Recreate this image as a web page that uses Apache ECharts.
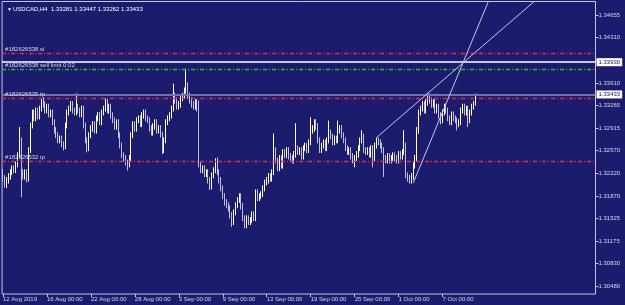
<!DOCTYPE html>
<html>
<head>
<meta charset="utf-8">
<script src="https://cdn.jsdelivr.net/npm/echarts@6/dist/echarts.min.js"></script>
<style>
html,body{margin:0;padding:0;background:#1c1c6e;}
#chart{width:625px;height:305px;}
</style>
</head>
<body>
<div id="chart"></div>
<script>
// USDCAD H4, 12 Aug 2019 -> 10 Oct 2019 : [open, close, low, high]
const candles = [
  [1.3223,1.3214,1.3209,1.3228],[1.3214,1.3205,1.3200,1.3219],[1.3205,1.3211,1.3199,1.3216],[1.3211,1.3217,1.3206,1.3222],
  [1.3217,1.3223,1.3212,1.3228],[1.3223,1.3229,1.3219,1.3234],[1.3229,1.3226,1.3222,1.3234],[1.3226,1.3236,1.3222,1.3240],
  [1.3236,1.3250,1.3231,1.3254],[1.3250,1.3272,1.3245,1.3293],[1.3272,1.3223,1.3185,1.3277],[1.3223,1.3217,1.3212,1.3228],
  [1.3217,1.3223,1.3212,1.3228],[1.3223,1.3214,1.3208,1.3228],[1.3214,1.3257,1.3209,1.3262],[1.3257,1.3296,1.3253,1.3300],
  [1.3296,1.3316,1.3291,1.3320],[1.3316,1.3306,1.3302,1.3320],[1.3306,1.3319,1.3302,1.3323],[1.3319,1.3309,1.3305,1.3323],
  [1.3309,1.3322,1.3305,1.3326],[1.3322,1.3331,1.3317,1.3337],[1.3331,1.3328,1.3323,1.3339],[1.3328,1.3319,1.3314,1.3333],
  [1.3319,1.3325,1.3314,1.3329],[1.3325,1.3313,1.3308,1.3329],[1.3313,1.3316,1.3308,1.3320],[1.3316,1.3300,1.3296,1.3320],
  [1.3300,1.3288,1.3283,1.3305],[1.3288,1.3280,1.3276,1.3293],[1.3280,1.3272,1.3268,1.3285],[1.3272,1.3276,1.3268,1.3280],
  [1.3276,1.3266,1.3262,1.3280],[1.3266,1.3263,1.3257,1.3271],[1.3263,1.3296,1.3259,1.3300],[1.3296,1.3316,1.3291,1.3320],
  [1.3316,1.3322,1.3311,1.3326],[1.3322,1.3328,1.3317,1.3333],[1.3328,1.3319,1.3314,1.3333],[1.3319,1.3316,1.3311,1.3323],
  [1.3316,1.3325,1.3311,1.3345],[1.3325,1.3319,1.3314,1.3329],[1.3319,1.3313,1.3308,1.3323],[1.3313,1.3322,1.3308,1.3326],
  [1.3322,1.3296,1.3291,1.3326],[1.3296,1.3272,1.3268,1.3300],[1.3272,1.3260,1.3254,1.3277],[1.3260,1.3280,1.3256,1.3285],
  [1.3280,1.3291,1.3276,1.3296],[1.3291,1.3297,1.3286,1.3302],[1.3297,1.3288,1.3283,1.3302],[1.3288,1.3306,1.3283,1.3311],
  [1.3306,1.3311,1.3302,1.3316],[1.3311,1.3300,1.3296,1.3316],[1.3300,1.3316,1.3296,1.3320],[1.3316,1.3322,1.3311,1.3326],
  [1.3322,1.3331,1.3317,1.3337],[1.3331,1.3319,1.3314,1.3336],[1.3319,1.3325,1.3314,1.3329],[1.3325,1.3311,1.3306,1.3329],
  [1.3311,1.3303,1.3299,1.3316],[1.3303,1.3294,1.3289,1.3308],[1.3294,1.3300,1.3289,1.3305],[1.3300,1.3280,1.3276,1.3305],
  [1.3280,1.3265,1.3260,1.3285],[1.3265,1.3250,1.3245,1.3269],[1.3250,1.3245,1.3240,1.3254],[1.3245,1.3239,1.3234,1.3250],
  [1.3239,1.3236,1.3226,1.3243],[1.3236,1.3245,1.3231,1.3250],[1.3245,1.3280,1.3240,1.3285],[1.3280,1.3297,1.3276,1.3302],
  [1.3297,1.3291,1.3286,1.3302],[1.3291,1.3303,1.3286,1.3308],[1.3303,1.3306,1.3299,1.3311],[1.3306,1.3297,1.3293,1.3311],
  [1.3297,1.3311,1.3293,1.3316],[1.3311,1.3316,1.3306,1.3320],[1.3316,1.3306,1.3302,1.3320],[1.3306,1.3303,1.3299,1.3311],
  [1.3303,1.3291,1.3286,1.3308],[1.3291,1.3285,1.3280,1.3296],[1.3285,1.3294,1.3280,1.3299],[1.3294,1.3300,1.3289,1.3305],
  [1.3300,1.3288,1.3283,1.3305],[1.3288,1.3291,1.3283,1.3296],[1.3291,1.3282,1.3277,1.3296],[1.3282,1.3257,1.3251,1.3286],
  [1.3257,1.3272,1.3253,1.3277],[1.3272,1.3300,1.3268,1.3305],[1.3300,1.3306,1.3296,1.3311],[1.3306,1.3311,1.3302,1.3316],
  [1.3311,1.3322,1.3306,1.3326],[1.3322,1.3342,1.3317,1.3360],[1.3342,1.3334,1.3329,1.3346],[1.3334,1.3325,1.3320,1.3339],
  [1.3325,1.3328,1.3320,1.3333],[1.3328,1.3337,1.3323,1.3342],[1.3337,1.3342,1.3333,1.3346],[1.3342,1.3349,1.3337,1.3354],
  [1.3349,1.3357,1.3345,1.3383],[1.3357,1.3342,1.3337,1.3362],[1.3342,1.3334,1.3329,1.3346],[1.3334,1.3328,1.3323,1.3339],
  [1.3328,1.3325,1.3320,1.3333],[1.3325,1.3331,1.3320,1.3336],[1.3331,1.3322,1.3317,1.3336],[1.3322,1.3234,1.3231,1.3334],
  [1.3234,1.3226,1.3222,1.3239],[1.3226,1.3229,1.3222,1.3234],[1.3229,1.3220,1.3216,1.3234],[1.3220,1.3223,1.3216,1.3228],
  [1.3223,1.3211,1.3206,1.3228],[1.3211,1.3202,1.3196,1.3216],[1.3202,1.3219,1.3197,1.3223],[1.3219,1.3226,1.3214,1.3231],
  [1.3226,1.3242,1.3222,1.3245],[1.3242,1.3223,1.3219,1.3246],[1.3223,1.3211,1.3206,1.3228],[1.3211,1.3199,1.3194,1.3216],
  [1.3199,1.3186,1.3182,1.3203],[1.3186,1.3177,1.3172,1.3191],[1.3177,1.3172,1.3168,1.3182],[1.3172,1.3168,1.3163,1.3177],
  [1.3168,1.3157,1.3152,1.3172],[1.3157,1.3146,1.3139,1.3162],[1.3146,1.3162,1.3142,1.3166],[1.3162,1.3172,1.3157,1.3177],
  [1.3172,1.3180,1.3168,1.3185],[1.3180,1.3186,1.3176,1.3191],[1.3186,1.3171,1.3166,1.3191],[1.3171,1.3152,1.3148,1.3176],
  [1.3152,1.3142,1.3137,1.3157],[1.3142,1.3152,1.3137,1.3157],[1.3152,1.3146,1.3142,1.3157],[1.3146,1.3149,1.3142,1.3154],
  [1.3149,1.3159,1.3145,1.3163],[1.3159,1.3152,1.3148,1.3163],[1.3152,1.3193,1.3148,1.3197],[1.3193,1.3183,1.3179,1.3197],
  [1.3183,1.3186,1.3179,1.3191],[1.3186,1.3190,1.3182,1.3194],[1.3190,1.3199,1.3185,1.3203],[1.3199,1.3208,1.3194,1.3212],
  [1.3208,1.3211,1.3203,1.3216],[1.3211,1.3217,1.3206,1.3222],[1.3217,1.3214,1.3209,1.3222],[1.3214,1.3223,1.3209,1.3228],
  [1.3223,1.3257,1.3219,1.3283],[1.3257,1.3242,1.3237,1.3262],[1.3242,1.3229,1.3225,1.3246],[1.3229,1.3245,1.3225,1.3250],
  [1.3245,1.3234,1.3229,1.3250],[1.3234,1.3254,1.3229,1.3259],[1.3254,1.3250,1.3245,1.3259],[1.3250,1.3257,1.3245,1.3262],
  [1.3257,1.3248,1.3243,1.3262],[1.3248,1.3245,1.3240,1.3253],[1.3245,1.3242,1.3237,1.3250],[1.3242,1.3251,1.3237,1.3256],
  [1.3251,1.3260,1.3246,1.3299],[1.3260,1.3254,1.3250,1.3265],[1.3254,1.3257,1.3250,1.3262],[1.3257,1.3248,1.3243,1.3262],
  [1.3248,1.3260,1.3243,1.3265],[1.3260,1.3265,1.3256,1.3269],[1.3265,1.3257,1.3253,1.3269],[1.3257,1.3269,1.3253,1.3274],
  [1.3269,1.3288,1.3265,1.3308],[1.3288,1.3291,1.3283,1.3296],[1.3291,1.3300,1.3286,1.3305],[1.3300,1.3294,1.3289,1.3305],
  [1.3294,1.3272,1.3268,1.3299],[1.3272,1.3257,1.3253,1.3277],[1.3257,1.3265,1.3253,1.3269],[1.3265,1.3269,1.3260,1.3274],
  [1.3269,1.3260,1.3256,1.3274],[1.3260,1.3272,1.3256,1.3277],[1.3272,1.3285,1.3268,1.3303],[1.3285,1.3279,1.3274,1.3289],
  [1.3279,1.3269,1.3265,1.3283],[1.3269,1.3276,1.3265,1.3280],[1.3276,1.3272,1.3268,1.3280],[1.3272,1.3288,1.3268,1.3303],
  [1.3288,1.3291,1.3283,1.3296],[1.3291,1.3280,1.3276,1.3296],[1.3280,1.3272,1.3268,1.3285],[1.3272,1.3260,1.3256,1.3277],
  [1.3260,1.3254,1.3250,1.3265],[1.3254,1.3257,1.3250,1.3262],[1.3257,1.3248,1.3243,1.3262],[1.3248,1.3242,1.3237,1.3253],
  [1.3242,1.3245,1.3231,1.3250],[1.3245,1.3251,1.3240,1.3256],[1.3251,1.3260,1.3246,1.3265],[1.3260,1.3272,1.3256,1.3277],
  [1.3272,1.3279,1.3268,1.3288],[1.3279,1.3257,1.3253,1.3283],[1.3257,1.3254,1.3250,1.3262],[1.3254,1.3257,1.3250,1.3262],
  [1.3257,1.3251,1.3246,1.3262],[1.3251,1.3260,1.3246,1.3265],[1.3260,1.3245,1.3231,1.3265],[1.3245,1.3265,1.3240,1.3269],
  [1.3265,1.3272,1.3260,1.3277],[1.3272,1.3269,1.3265,1.3277],[1.3269,1.3265,1.3260,1.3274],[1.3265,1.3257,1.3253,1.3269],
  [1.3257,1.3245,1.3216,1.3262],[1.3245,1.3242,1.3237,1.3250],[1.3242,1.3248,1.3237,1.3253],[1.3248,1.3242,1.3237,1.3253],
  [1.3242,1.3245,1.3237,1.3250],[1.3245,1.3250,1.3240,1.3254],[1.3250,1.3245,1.3240,1.3254],[1.3245,1.3242,1.3237,1.3250],
  [1.3242,1.3251,1.3237,1.3256],[1.3251,1.3248,1.3243,1.3256],[1.3248,1.3254,1.3243,1.3259],[1.3254,1.3265,1.3250,1.3288],
  [1.3265,1.3219,1.3214,1.3269],[1.3219,1.3214,1.3209,1.3223],[1.3214,1.3211,1.3206,1.3219],[1.3211,1.3217,1.3206,1.3222],
  [1.3217,1.3234,1.3212,1.3239],[1.3234,1.3245,1.3229,1.3250],[1.3245,1.3288,1.3240,1.3293],[1.3288,1.3316,1.3283,1.3320],
  [1.3316,1.3322,1.3311,1.3326],[1.3322,1.3328,1.3317,1.3333],[1.3328,1.3319,1.3314,1.3333],[1.3319,1.3331,1.3314,1.3336],
  [1.3331,1.3340,1.3326,1.3346],[1.3340,1.3334,1.3329,1.3345],[1.3334,1.3328,1.3323,1.3339],[1.3328,1.3331,1.3323,1.3336],
  [1.3331,1.3319,1.3314,1.3336],[1.3319,1.3325,1.3314,1.3329],[1.3325,1.3311,1.3306,1.3329],[1.3311,1.3303,1.3297,1.3316],
  [1.3303,1.3316,1.3299,1.3320],[1.3316,1.3325,1.3311,1.3329],[1.3325,1.3319,1.3314,1.3329],[1.3319,1.3306,1.3302,1.3323],
  [1.3306,1.3300,1.3296,1.3311],[1.3300,1.3313,1.3296,1.3317],[1.3313,1.3306,1.3302,1.3317],[1.3306,1.3303,1.3299,1.3311],
  [1.3303,1.3297,1.3288,1.3308],[1.3297,1.3300,1.3293,1.3305],[1.3300,1.3319,1.3296,1.3323],[1.3319,1.3325,1.3314,1.3329],
  [1.3325,1.3316,1.3311,1.3329],[1.3316,1.3322,1.3311,1.3326],[1.3322,1.3303,1.3293,1.3326],[1.3303,1.3316,1.3299,1.3320],
  [1.3316,1.3325,1.3311,1.3329],[1.3325,1.3328,1.3320,1.3333],[1.33281,1.33433,1.33262,1.33447]
];

// time axis: one slot per H4 bar, chart shows empty slots to the right
const slotCount = 324;
const xTickIdx = [0, 24, 48, 72, 96, 120, 144, 168, 192, 216, 240];
const xTickLabels = ['12 Aug 2019', '16 Aug 00:00', '22 Aug 00:00', '28 Aug 00:00', '3 Sep 00:00',
  '9 Sep 00:00', '13 Sep 00:00', '19 Sep 00:00', '25 Sep 00:00', '1 Oct 00:00', '7 Oct 00:00'];

const yTicks = [1.30480, 1.30830, 1.31175, 1.31525, 1.31870, 1.32220, 1.32570,
  1.32915, 1.33265, 1.33610, 1.33960, 1.34310, 1.34655];
const yMin = 1.30357;
const yMax = 1.34866;

// order / object levels
const slPrice = 1.34070;
const hLinePrice = 1.33930;
const sellLimitPrice = 1.33824;
const tp535Price = 1.33369;
const tp532Price = 1.32404;
const bidPrice = 1.33433;

// trend lines: [bar index, price] anchors
const trendA = [[204, 1.3277], [290, 1.34866]];
const trendB = [[224, 1.3207], [265, 1.34866]];

const categories = [];
for (let i = 0; i < slotCount; i++) categories.push(String(i));

const txt = '#d6d6e8';
const font = 'Liberation Sans, Arial, sans-serif';
const red = '#e8283e';
const dashDot = [4, 2, 1, 2];

function orderLine(price, color, text) {
    return {
        yAxis: price,
        lineStyle: { color: color, width: 1.4, type: dashDot, opacity: 1 },
        label: {
            show: true, position: 'insideStartTop', distance: [3, 1],
            formatter: text, color: txt, fontSize: 6, fontFamily: font
        }
    };
}
function priceBox(price, color, width, type) {
    return {
        yAxis: price,
        lineStyle: { color: color, width: width, type: type, opacity: 1 },
        label: {
            show: true, position: 'end', distance: 1,
            formatter: price.toFixed(5), color: '#141450', fontSize: 6, fontFamily: font,
            backgroundColor: '#ffffff', padding: [1, 2, 1, 2]
        }
    };
}
function trendLine(pts) {
    return [
        { coord: pts[0], lineStyle: { color: '#c8c8e6', width: 1, type: 'solid', opacity: 1 }, label: { show: false } },
        { coord: pts[1] }
    ];
}

const chart = echarts.init(document.getElementById('chart'));
chart.setOption({
    animation: false,
    backgroundColor: '#1c1c6e',
    title: [
        { text: '▼', left: 2, top: 2, textStyle: { color: '#ffffff', fontSize: 5, fontWeight: 'normal', fontFamily: font } },
        { text: 'USDCAD,H4  1.33281 1.33447 1.33262 1.33433', left: 8, top: 1,
          textStyle: { color: '#ffffff', fontSize: 6, fontWeight: 'normal', fontFamily: font } }
    ],
    grid: {
        left: 1.5, right: 29.5, top: 1.5, bottom: 11,
        show: true, borderColor: '#c4c4dc', borderWidth: 1, backgroundColor: 'transparent'
    },
    xAxis: {
        type: 'category',
        data: categories,
        boundaryGap: true,
        axisLine: { show: false },
        axisTick: {
            show: true, alignWithLabel: true, length: 3,
            interval: (idx) => xTickIdx.includes(idx),
            lineStyle: { color: '#c4c4dc' }
        },
        axisLabel: {
            interval: (idx) => xTickIdx.includes(idx),
            formatter: (v, idx) => xTickLabels[xTickIdx.indexOf(idx)] || '',
            align: 'left', margin: 2,
            color: txt, fontSize: 6, fontFamily: font
        },
        splitLine: { show: false }
    },
    yAxis: {
        type: 'value',
        position: 'right',
        min: yMin,
        max: yMax,
        scale: true,
        axisLine: { show: false },
        axisTick: { show: true, length: 3, customValues: yTicks, lineStyle: { color: '#c4c4dc' } },
        axisLabel: {
            customValues: yTicks,
            formatter: (v) => v.toFixed(5),
            margin: 3, color: txt, fontSize: 6, fontFamily: font
        },
        splitLine: { show: false }
    },
    series: [{
        type: 'candlestick',
        data: candles,
        barWidth: 1.2,
        itemStyle: {
            color: '#ffffff', borderColor: '#ffffff',
            color0: '#a4a4cc', borderColor0: '#c0c0e0',
            borderWidth: 1
        },
        markLine: {
            silent: true,
            precision: 5,
            symbol: ['none', 'none'],
            animation: false,
            data: [
                orderLine(slPrice, red, '#182626538 sl'),
                priceBox(hLinePrice, '#ffffff', 1.6, 'solid'),
                orderLine(sellLimitPrice, '#2cbc2c', '#182626538 sell limit 0.02'),
                priceBox(bidPrice, '#7070aa', 2, 'solid'),
                orderLine(tp535Price, red, '#182626535 tp'),
                orderLine(tp532Price, red, '#182626532 tp'),
                trendLine(trendA),
                trendLine(trendB)
            ]
        }
    }]
});
</script>
</body>
</html>
